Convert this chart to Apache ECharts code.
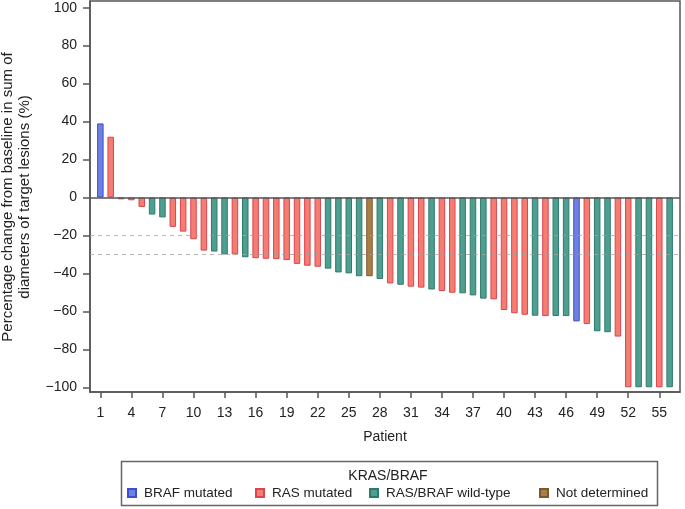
<!DOCTYPE html>
<html>
<head>
<meta charset="utf-8">
<script src="https://cdn.jsdelivr.net/npm/echarts@6/dist/echarts.min.js"></script>
<style>
html,body{margin:0;padding:0;background:#fff;}
#chart{width:685px;height:509px;}
</style>
</head>
<body>
<div id="chart"></div>
<script>
// ---- data ----
const patients = [1,2,3,4,5,6,7,8,9,10,11,12,13,14,15,16,17,18,19,20,21,22,23,24,25,26,27,28,29,30,31,32,33,34,35,36,37,38,39,40,41,42,43,44,45,46,47,48,49,50,51,52,53,54,55,56];
const changes = [39,32,-1,-1.5,-5,-9,-10.5,-15.5,-18,-22,-28,-28.5,-30,-30,-31.5,-32,-32.3,-32.5,-33,-35,-36,-36.5,-37.5,-39.5,-40,-41.5,-41.5,-43,-45.3,-46,-47,-47.5,-48.5,-49.3,-50.2,-50.5,-51.6,-53.3,-53.7,-59.3,-61,-61.8,-62.3,-62.5,-62.5,-62.5,-65.3,-66.7,-70.5,-71,-73.3,-100,-100,-100,-100,-100];
const B = 'BRAF mutated', R = 'RAS mutated', W = 'RAS/BRAF wild-type', N = 'Not determined';
const status = [B,R,R,R,R,W,W,R,R,R,R,W,W,R,W,R,R,R,R,R,R,R,W,W,W,W,N,W,R,W,R,R,W,R,R,W,W,W,R,R,R,R,W,R,W,W,B,R,W,W,R,R,W,W,R,W];
const groups = [B, R, W, N];
const legendTitle = 'KRAS/BRAF';
const xTicks = [1,4,7,10,13,16,19,22,25,28,31,34,37,40,43,46,49,52,55];
const yTicks = [-100,-80,-60,-40,-20,0,20,40,60,80,100];
const refLines = [-20, -30];
const xTitle = 'Patient';
const yTitle1 = 'Percentage change from baseline in sum of';
const yTitle2 = 'diameters of target lesions (%)';

// ---- styles ----
const fills = {[B]:'#6d80e4',[R]:'#f37d70',[W]:'#4f9f90',[N]:'#a97e47'};
const borders = {[B]:'#3e4fce',[R]:'#dc4452',[W]:'#2d7a6c',[N]:'#7a5a2a'};
const FONT = '"Liberation Sans", Arial, Helvetica, sans-serif';
const legendLeft = {[B]:127,[R]:255,[W]:369,[N]:539};

const chart = echarts.init(document.getElementById('chart'), null, {renderer:'canvas'});

const series = groups.map((g, gi) => {
  const data = [];
  patients.forEach((p, i) => { if (status[i] === g) data.push([p, changes[i]]); });
  const s = {
    name: g,
    type: 'bar',
    data: data,
    barWidth: 6.5,
    barGap: '-100%',
    itemStyle: {color: fills[g], borderColor: borders[g], borderWidth: 1},
    emphasis: {disabled: true},
    animation: false
  };
  if (gi === 0) {
    s.markLine = {
      silent: true, symbol: 'none', animation: false, z: 10,
      label: {show: false},
      data: [
        {yAxis: 0, lineStyle: {color: '#555', type: 'solid', width: 1.5}},
        ...refLines.map(v => ({yAxis: v, lineStyle: {color: '#a0a0a0', type: [4, 4], width: 1.2, opacity: 0.75}}))
      ]
    };
  }
  return s;
});

const legends = groups.map(g => ({
  data: [g],
  left: legendLeft[g],
  top: 486,
  padding: 0,
  itemWidth: 8,
  itemHeight: 8,
  itemGap: 0,
  icon: 'rect',
  selectedMode: false,
  textStyle: {fontFamily: FONT, fontSize: 13.5, color: '#222', padding: [0, 0, 0, 3]}
}));

const option = {
  animation: false,
  backgroundColor: '#fff',
  grid: {left: 90, right: 5, top: 1, bottom: 117, show: true, borderColor: '#555', borderWidth: 1.5, backgroundColor: 'transparent'},
  legend: legends,
  xAxis: {
    type: 'value', min: 0, max: 57,
    name: xTitle, nameLocation: 'middle', nameGap: 38,
    nameTextStyle: {fontFamily: FONT, fontSize: 14, color: '#222'},
    axisLine: {show: true, onZero: false, lineStyle: {color: '#555', width: 1.5}},
    axisTick: {show: true, inside: false, length: 6, customValues: xTicks, lineStyle: {color: '#555', width: 1.5}},
    axisLabel: {customValues: xTicks, fontFamily: FONT, fontSize: 14, color: '#222', margin: 14},
    splitLine: {show: false}
  },
  yAxis: {
    type: 'value', min: -102.5, max: 103.5,
    axisLine: {show: true, onZero: false, lineStyle: {color: '#555', width: 1.5}},
    axisTick: {show: true, inside: false, length: 7, customValues: yTicks, lineStyle: {color: '#555', width: 1.5}},
    axisLabel: {customValues: yTicks, fontFamily: FONT, fontSize: 14, color: '#222', margin: 13,
      formatter: v => v < 0 ? '\u2212' + (-v) : String(v)},
    splitLine: {show: false}
  },
  graphic: [
    {type: 'text', x: 8, y: 197, rotation: Math.PI / 2,
      style: {text: yTitle1, font: '15px ' + FONT, fill: '#222', align: 'center', verticalAlign: 'middle'}},
    {type: 'text', x: 25, y: 197, rotation: Math.PI / 2,
      style: {text: yTitle2, font: '15px ' + FONT, fill: '#222', align: 'center', verticalAlign: 'middle'}},
    {type: 'rect', shape: {x: 121.5, y: 461.5, width: 536, height: 44},
      style: {fill: 'none', stroke: '#666', lineWidth: 1.5}},
    {type: 'text', x: 388, y: 476,
      style: {text: legendTitle, font: '14px ' + FONT, fill: '#222', align: 'center', verticalAlign: 'middle'}}
  ],
  series: series
};
chart.setOption(option);
</script>
</body>
</html>
